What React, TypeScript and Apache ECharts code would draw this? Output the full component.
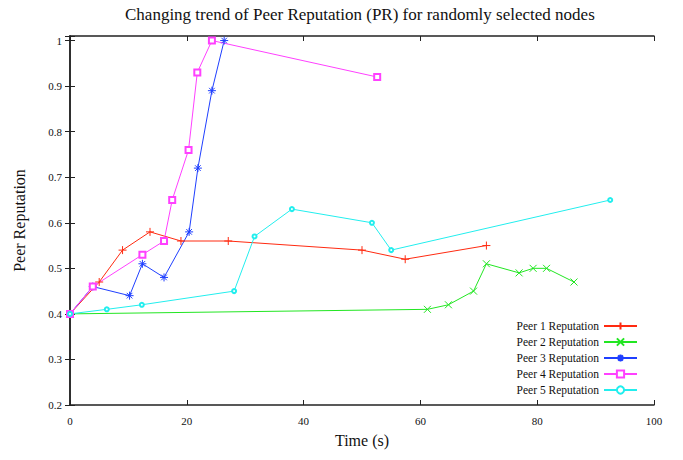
import React, { useEffect, useRef } from "react";
import * as echarts from "echarts";

const titleText = "Changing trend of Peer Reputation (PR) for randomly selected nodes";
const xTitle = "Time (s)";
const yTitle = "Peer Reputation";

const seriesNames = [
  "Peer 1 Reputation",
  "Peer 2 Reputation",
  "Peer 3 Reputation",
  "Peer 4 Reputation",
  "Peer 5 Reputation",
];

const peer1Time = [0, 5.0, 9.0, 13.7, 19.0, 27.1, 50.0, 57.4, 71.3];
const peer1Rep = [0.4, 0.47, 0.54, 0.58, 0.56, 0.56, 0.54, 0.52, 0.55];

const peer2Time = [0, 61.2, 64.8, 69.1, 71.3, 76.9, 79.3, 81.6, 86.3];
const peer2Rep = [0.4, 0.41, 0.42, 0.45, 0.51, 0.49, 0.5, 0.5, 0.47];

const peer3Time = [0, 3.9, 10.2, 12.4, 16.1, 20.4, 21.9, 24.3, 26.4];
const peer3Rep = [0.4, 0.46, 0.44, 0.51, 0.48, 0.58, 0.72, 0.89, 1.0];

const peer4Time = [0, 3.9, 12.4, 16.1, 17.5, 20.3, 21.8, 24.3, 52.6];
const peer4Rep = [0.4, 0.46, 0.53, 0.56, 0.65, 0.76, 0.93, 1.0, 0.92];

const peer5Time = [0, 6.3, 12.3, 28.1, 31.6, 38.0, 51.7, 55.0, 92.5];
const peer5Rep = [0.4, 0.41, 0.42, 0.45, 0.57, 0.63, 0.6, 0.54, 0.65];

const colors = ["#ff2a10", "#22e622", "#1f3fff", "#ff40ff", "#22eeee"];
const symbols = [
  "path://M0,5L10,5M5,0L5,10",
  "path://M0,0L10,10M0,10L10,0",
  "path://M0,5L10,5M5,0L5,10M1.5,1.5L8.5,8.5M1.5,8.5L8.5,1.5",
  "emptyRect",
  "emptyCircle",
];
const symbolSizes = [8, 7, 8, 6, 4];

const times = [peer1Time, peer2Time, peer3Time, peer4Time, peer5Time];
const reps = [peer1Rep, peer2Rep, peer3Rep, peer4Rep, peer5Rep];

const FONT = "'Liberation Serif', 'Times New Roman', serif";

export default function App() {
  const ref = useRef<HTMLDivElement>(null);
  useEffect(() => {
    if (!ref.current) return;
    const chart = echarts.init(ref.current, null, { renderer: "svg" });
    const axisLine = { show: true, lineStyle: { color: "#222", width: 1.5 } };
    const tick = { show: true, inside: true, length: 5, lineStyle: { color: "#222", width: 1 } };
    const series = seriesNames.map((name, i) => ({
      name,
      type: "line",
      xAxisIndex: 0,
      yAxisIndex: 0,
      data: times[i].map((t, j) => [t, reps[i][j]]),
      symbol: symbols[i],
      symbolSize: symbolSizes[i],
      showAllSymbol: true,
      lineStyle: { color: colors[i], width: 1 },
      itemStyle: {
        color: colors[i],
        borderColor: colors[i],
        borderWidth: 1,
      },
      color: colors[i],
    }));
    chart.setOption({
      animation: false,
      backgroundColor: "#fff",
      textStyle: { fontFamily: FONT },
      title: {
        text: titleText,
        left: 120,
        top: 1,
        textStyle: { fontFamily: FONT, fontSize: 17, fontWeight: "normal", color: "#111" },
      },
      grid: { left: 70, right: 29, top: 36, bottom: 55, containLabel: false },
      legend: {
        orient: "vertical",
        right: 40,
        top: 315,
        align: "right",
        itemGap: 4,
        itemWidth: 33,
        itemHeight: 9,
        textStyle: { fontFamily: FONT, fontSize: 11.5, color: "#111" },
        data: seriesNames,
      },
      xAxis: [
        {
          type: "value",
          min: 0,
          max: 100,
          interval: 20,
          name: xTitle,
          nameLocation: "middle",
          nameGap: 27,
          nameTextStyle: { fontFamily: FONT, fontSize: 16, color: "#111" },
          axisLine,
          axisTick: tick,
          axisLabel: { fontFamily: FONT, fontSize: 11, color: "#111", margin: 10 },
          splitLine: { show: false },
        },
        {
          type: "value",
          position: "top",
          min: 0,
          max: 100,
          interval: 20,
          axisLine,
          axisTick: tick,
          axisLabel: { show: false },
          splitLine: { show: false },
        },
      ],
      yAxis: [
        {
          type: "value",
          min: 0.2,
          max: 1.01,
          interval: 0.1,
          name: yTitle,
          nameLocation: "middle",
          nameGap: 43,
          nameTextStyle: { fontFamily: FONT, fontSize: 16, color: "#111" },
          axisLine,
          axisTick: tick,
          axisLabel: {
            fontFamily: FONT,
            fontSize: 11,
            color: "#111",
            margin: 8,
            formatter: (v: number) => {
              const r = Math.round(v * 10) / 10;
              return Math.abs(v - r) < 1e-6 ? String(r) : "";
            },
          },
          splitLine: { show: false },
        },
        {
          type: "value",
          position: "right",
          min: 0.2,
          max: 1.01,
          interval: 0.1,
          axisLine,
          axisTick: tick,
          axisLabel: { show: false },
          splitLine: { show: false },
        },
      ],
      series,
    });
    return () => chart.dispose();
  }, []);
  return (
    <div
      ref={ref}
      style={{ position: "fixed", left: 0, top: 0, width: 683, height: 460, background: "#fff" }}
    />
  );
}
